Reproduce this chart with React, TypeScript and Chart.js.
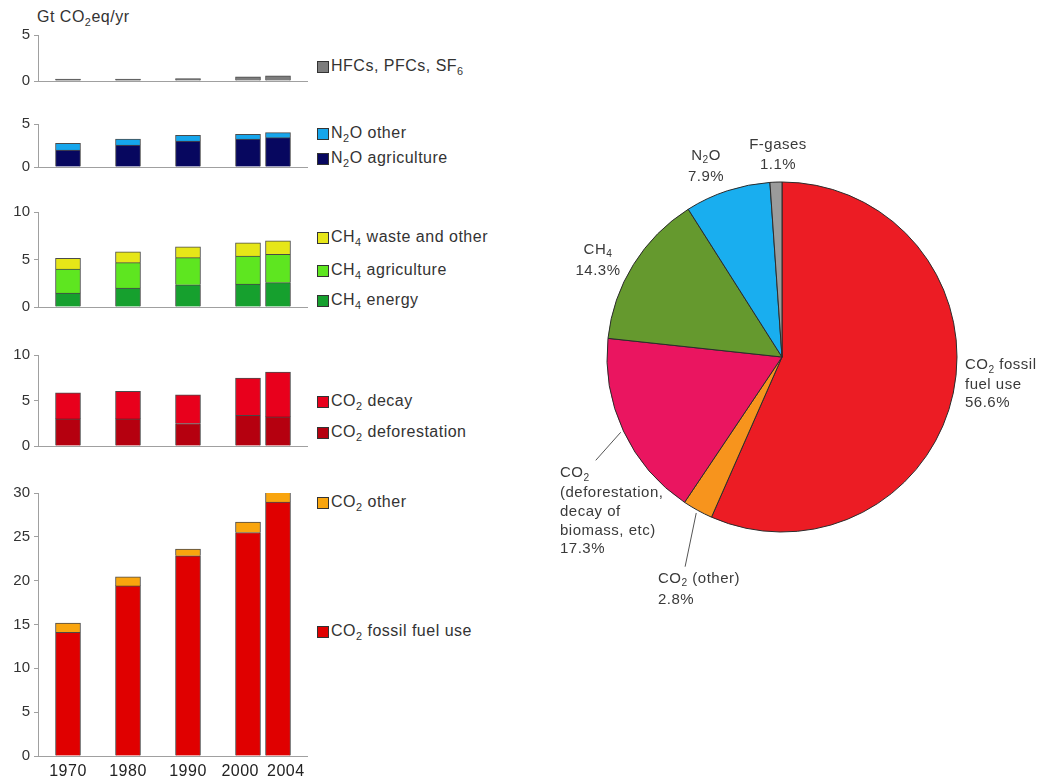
import React, { useEffect, useRef } from "react";
import { Chart, registerables } from "chart.js";

Chart.register(...registerables);

// ---------- data ----------
const years = ["1970", "1980", "1990", "2000", "2004"];

const hfcs = [0.2, 0.2, 0.25, 0.45, 0.55];
const n2oAgriculture = [1.98, 2.56, 3.02, 3.25, 3.41];
const n2oOther = [0.77, 0.69, 0.66, 0.55, 0.58];
const ch4Energy = [1.46, 1.99, 2.33, 2.4, 2.57];
const ch4Agriculture = [2.54, 2.68, 2.86, 2.97, 2.97];
const ch4Waste = [1.12, 1.15, 1.15, 1.39, 1.43];
const co2Deforestation = [2.98, 2.98, 2.47, 3.38, 3.2];
const co2Decay = [2.86, 3.02, 3.15, 4.08, 4.92];
const co2Fossil = [14.12, 19.4, 22.83, 25.49, 28.96];
const co2Other = [1.03, 1.03, 0.77, 1.19, 1.41];

const pieNames = [
  "CO2 fossil fuel use",
  "CO2 (other)",
  "CO2 (deforestation, decay of biomass, etc)",
  "CH4",
  "N2O",
  "F-gases",
];
const pieShares = [56.6, 2.8, 17.3, 14.3, 7.9, 1.1];
const pieLabelLines = [
  ["CO_2 fossil", "fuel use"],
  ["CO_2 (other)"],
  ["CO_2", "(deforestation,", "decay of", "biomass, etc)"],
  ["CH_4"],
  ["N_2O"],
  ["F-gases"],
];
const pieColors = ["#ec1c24", "#f7941d", "#ea1560", "#65992e", "#19aeef", "#9b9b9b"];

// ---------- styling / layout ----------
const FONT = "'Liberation Sans', Arial, Helvetica, sans-serif";
const AXIS = "#a0a0a0";
const TEXT = "#333";
const SEG_BORDER = "rgba(30,30,30,0.8)";
const PAD = 14;
const PANEL_W = 308;

type Series = { label: string; data: number[]; color: string };

const panelSeries: Series[][] = [
  [{ label: "HFCs, PFCs, SF_6", data: hfcs, color: "#7d7d7d" }],
  [
    { label: "N_2O agriculture", data: n2oAgriculture, color: "#07075f" },
    { label: "N_2O other", data: n2oOther, color: "#16a6ec" },
  ],
  [
    { label: "CH_4 energy", data: ch4Energy, color: "#16a02e" },
    { label: "CH_4 agriculture", data: ch4Agriculture, color: "#5ee620" },
    { label: "CH_4 waste and other", data: ch4Waste, color: "#e6e618" },
  ],
  [
    { label: "CO_2 deforestation", data: co2Deforestation, color: "#b5000f" },
    { label: "CO_2 decay", data: co2Decay, color: "#e8001c" },
  ],
  [
    { label: "CO_2 fossil fuel use", data: co2Fossil, color: "#e00000" },
    { label: "CO_2 other", data: co2Other, color: "#f9a50e" },
  ],
];

const panelLayout = [
  { max: 5, top: 35, bottom: 81, legendY: [66] },
  { max: 5, top: 124, bottom: 167, legendY: [158, 133] },
  { max: 10, top: 212, bottom: 307, legendY: [300, 270, 237] },
  { max: 10, top: 355, bottom: 446, legendY: [432, 401] },
  { max: 30, top: 493, bottom: 756, legendY: [631, 502] },
];

const pieLabelLayout = [
  { x: 965, y: 364, lh: 18, align: "left" },
  { x: 658, y: 577, lh: 19, align: "left" },
  { x: 560, y: 472, lh: 18.7, align: "left" },
  { x: 598, y: 248, lh: 19, align: "center" },
  { x: 706, y: 154, lh: 19, align: "center" },
  { x: 778, y: 144, lh: 19.5, align: "center" },
];

const leaderSpecs = [
  { index: 2, length: 38, turn: -4 },
  { index: 1, length: 56, turn: -4 },
];

// category slots: a blank spacer between decade-spaced years
const slots: string[] = [""];
years.forEach((y, i) => {
  if (i > 0 && Number(y) - Number(years[i - 1]) > 5) slots.push("");
  slots.push(y);
});
slots.push("");
const toSlots = (d: number[]) => slots.map((s) => (s === "" ? null : d[years.indexOf(s)]));

function Rich({ text }: { text: string }) {
  const parts = text.split(/_(\w)/);
  return (
    <>
      {parts.map((p, i) =>
        i % 2 === 1 ? (
          <span key={i} style={{ fontSize: "0.68em", position: "relative", top: "0.38em" }}>
            {p}
          </span>
        ) : (
          <React.Fragment key={i}>{p}</React.Fragment>
        )
      )}
    </>
  );
}

// year labels under the bottom panel, spread apart where they would collide
const yearLabelPlugin = {
  id: "yearLabels",
  afterDraw(chart: any) {
    const xs = chart.scales.x;
    const ctx = chart.ctx;
    ctx.save();
    ctx.font = `16px ${FONT}`;
    (ctx as any).letterSpacing = "0.5px";
    ctx.fillStyle = "#222";
    ctx.textAlign = "center";
    ctx.textBaseline = "middle";
    const pos = years.map((y) => xs.getPixelForValue(slots.indexOf(y)));
    const widths = years.map((y) => ctx.measureText(y).width);
    for (let i = 1; i < pos.length; i++) {
      const need = (widths[i] + widths[i - 1]) / 2 + 8;
      const gap = pos[i] - pos[i - 1];
      if (gap < need) {
        const d = (need - gap) / 2;
        pos[i - 1] -= d;
        pos[i] += d;
      }
    }
    const y = chart.chartArea.bottom + 16;
    years.forEach((yr, i) => ctx.fillText(yr, pos[i], y));
    ctx.restore();
  },
};

function BarPanel({ idx }: { idx: number }) {
  const ref = useRef<HTMLCanvasElement>(null);
  const layout = panelLayout[idx];
  const series = panelSeries[idx];
  const showX = idx === panelLayout.length - 1;
  const xh = showX ? 24 : 1;
  const padBottom = showX ? 0 : PAD;
  const height = layout.bottom - layout.top + PAD + xh + padBottom;
  useEffect(() => {
    const chart = new Chart(ref.current as HTMLCanvasElement, {
      type: "bar",
      data: {
        labels: slots,
        datasets: series.map((s) => ({
          label: s.label,
          data: toSlots(s.data),
          backgroundColor: s.color,
          borderColor: SEG_BORDER,
          borderWidth: 1,
          barThickness: 25,
        })),
      },
      options: {
        responsive: false,
        animation: false,
        events: [],
        layout: { padding: { top: PAD, right: 0, bottom: padBottom, left: 0 } },
        plugins: { legend: { display: false }, tooltip: { enabled: false } },
        scales: {
          x: {
            stacked: true,
            offset: false,
            grid: { display: false, drawTicks: false },
            border: { display: true, color: AXIS, width: 1 },
            ticks: { display: false },
            afterFit: (s: any) => {
              s.height = xh;
            },
          },
          y: {
            stacked: true,
            min: 0,
            max: layout.max,
            ticks: { stepSize: 5, padding: 4, color: TEXT, font: { family: FONT, size: 15 } },
            grid: { drawOnChartArea: false, tickLength: 4, color: AXIS },
            border: { display: true, color: AXIS, width: 1 },
            afterFit: (s: any) => {
              s.width = 38;
            },
          },
        },
      } as any,
      plugins: showX ? [yearLabelPlugin] : [],
    });
    return () => chart.destroy();
  }, []);
  return (
    <>
      <canvas
        ref={ref}
        width={PANEL_W}
        height={height}
        style={{ position: "absolute", left: 0, top: layout.top - PAD, width: PANEL_W, height }}
      />
      {series.map((s, i) => (
        <React.Fragment key={s.label}>
          <div
            style={{
              position: "absolute",
              left: 317,
              top: layout.legendY[i] - 5.5,
              width: 10,
              height: 10,
              background: s.color,
              border: "1px solid #333",
            }}
          />
          <div
            style={{
              position: "absolute",
              left: 331,
              top: layout.legendY[i] - 10,
              height: 20,
              lineHeight: "20px",
              fontFamily: FONT,
              fontSize: 16,
              letterSpacing: "0.5px",
              color: TEXT,
              whiteSpace: "nowrap",
            }}
          >
            <Rich text={s.label} />
          </div>
        </React.Fragment>
      ))}
    </>
  );
}

const leaderPlugin = {
  id: "leaders",
  afterDatasetsDraw(chart: any) {
    const meta = chart.getDatasetMeta(0);
    const ctx = chart.ctx;
    ctx.save();
    ctx.strokeStyle = "#555";
    ctx.lineWidth = 1;
    leaderSpecs.forEach(({ index, length, turn }) => {
      const arc = meta.data[index];
      const { x, y, startAngle, endAngle, outerRadius } = arc.getProps(
        ["x", "y", "startAngle", "endAngle", "outerRadius"],
        true
      );
      const mid = (startAngle + endAngle) / 2;
      const a2 = mid + (turn * Math.PI) / 180;
      ctx.beginPath();
      ctx.moveTo(x + (outerRadius + 3) * Math.cos(mid), y + (outerRadius + 3) * Math.sin(mid));
      ctx.lineTo(x + (outerRadius + length) * Math.cos(a2), y + (outerRadius + length) * Math.sin(a2));
      ctx.stroke();
    });
    ctx.restore();
  },
};

function PieChart() {
  const ref = useRef<HTMLCanvasElement>(null);
  useEffect(() => {
    const chart = new Chart(ref.current as HTMLCanvasElement, {
      type: "pie",
      data: {
        labels: pieNames,
        datasets: [
          {
            data: pieShares,
            backgroundColor: pieColors,
            borderColor: "#2b2b2b",
            borderWidth: 1,
            radius: 175,
          } as any,
        ],
      },
      options: {
        responsive: false,
        animation: false,
        events: [],
        radius: 175,
        layout: { padding: 0 },
        plugins: { legend: { display: false }, tooltip: { enabled: false } },
      } as any,
      plugins: [leaderPlugin],
    });
    return () => chart.destroy();
  }, []);
  return (
    <>
      <canvas
        ref={ref}
        width={480}
        height={480}
        style={{ position: "absolute", left: 542, top: 117, width: 480, height: 480 }}
      />
      {pieLabelLayout.map((p, i) => {
        const lines = [...pieLabelLines[i], `${pieShares[i].toFixed(1)}%`];
        const isCenter = p.align === "center";
        return (
          <div
            key={i}
            style={{
              position: "absolute",
              left: isCenter ? p.x - 60 : p.x,
              width: isCenter ? 120 : undefined,
              top: p.y - p.lh / 2,
              textAlign: isCenter ? "center" : "left",
              fontFamily: FONT,
              fontSize: 15,
              letterSpacing: "0.5px",
              lineHeight: `${p.lh}px`,
              color: "#3a3a3a",
              whiteSpace: "nowrap",
            }}
          >
            {lines.map((l, j) => (
              <div key={j}>
                <Rich text={l} />
              </div>
            ))}
          </div>
        );
      })}
    </>
  );
}

export default function App() {
  return (
    <div
      style={{
        position: "absolute",
        left: 0,
        top: 0,
        width: 1039,
        height: 782,
        overflow: "hidden",
        background: "#fff",
      }}
    >
      <div
        style={{
          position: "absolute",
          left: 37,
          top: 7,
          height: 20,
          lineHeight: "20px",
          fontFamily: FONT,
          fontSize: 16,
          letterSpacing: "0.5px",
          color: TEXT,
          whiteSpace: "nowrap",
        }}
      >
        <Rich text="Gt CO_2eq/yr" />
      </div>
      {panelLayout.map((_, i) => (
        <BarPanel key={i} idx={i} />
      ))}
      <PieChart />
    </div>
  );
}
